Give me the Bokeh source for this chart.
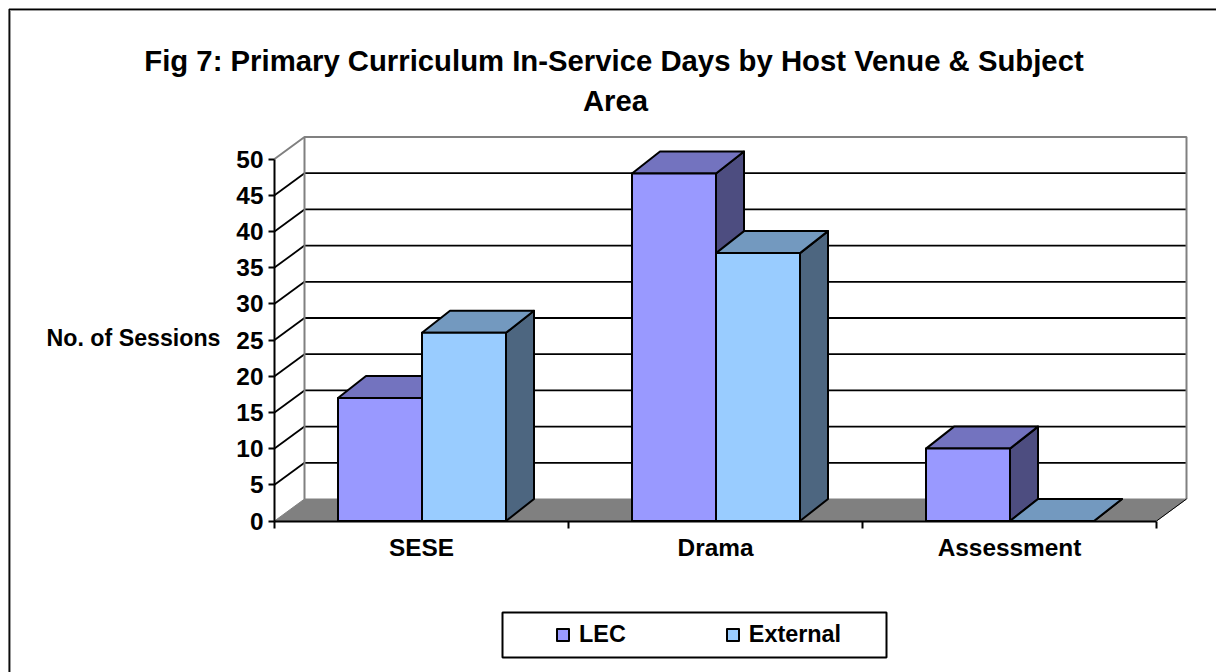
from bokeh.plotting import figure
from bokeh.embed import file_html
from bokeh.resources import INLINE
from bokeh.models import (ColumnDataSource, Range1d, LinearAxis, FixedTicker, Label,
                          Legend, LegendItem, BoxAnnotation)

categories = ["SESE", "Drama", "Assessment"]
lec = [17, 48, 10]
external = [26, 37, 0]
y_ticks = [0, 5, 10, 15, 20, 25, 30, 35, 40, 45, 50]

FONT = "Liberation Sans"
PX_X = 294.0      # pixels per category
PX_Y = 7.24       # pixels per unit
X0, Y0 = 274, 520.5  # page position of the front origin
WIDTH, HEIGHT = 1216, 672

DX_WALL, DY_WALL = 30 / PX_X, 22 / PX_Y
DX_BAR, DY_BAR = 28 / PX_X, 22 / PX_Y
BAR_W = 84 / PX_X
BAR_SHIFT = 0.5 / PX_X


def X(px):
    return (px - X0) / PX_X


def Y(py):
    return (Y0 - py) / PX_Y


p = figure(width=WIDTH, height=HEIGHT, output_backend="svg", toolbar_location=None,
           x_range=Range1d(X(0), X(WIDTH)), y_range=Range1d(Y(HEIGHT), Y(0)),
           x_axis_type=None, y_axis_type=None,
           min_border_left=0, min_border_top=0, min_border_right=0, min_border_bottom=0)
p.outline_line_color = None
p.grid.visible = False

n = len(categories)
ymax = y_ticks[-1]
GREY = "#808080"

# floor
p.patch([0, DX_WALL, n + DX_WALL, n], [0, DY_WALL, DY_WALL, 0], fill_color=GREY, line_color=GREY, line_width=1)

# gridlines: diagonal on the side wall and horizontal on the back wall
inner = y_ticks[1:-1]
p.multi_line([[0, DX_WALL] for _ in inner], [[t, t + DY_WALL] for t in inner], line_color="black", line_width=1.8)
p.multi_line([[DX_WALL, n + DX_WALL] for _ in inner], [[t + DY_WALL] * 2 for t in inner], line_color="black", line_width=1.8)

# wall outline
p.line([0, DX_WALL, n + DX_WALL, n + DX_WALL], [ymax, ymax + DY_WALL, ymax + DY_WALL, DY_WALL], line_color=GREY, line_width=2)
p.line([DX_WALL, DX_WALL], [DY_WALL, ymax + DY_WALL], line_color=GREY, line_width=2)
p.line([n, n + DX_WALL], [0, DY_WALL], line_color="black", line_width=1)

series = [("LEC", lec, -BAR_W, "#9999FF", "#7373BF", "#4D4D80"),
          ("External", external, 0, "#99CCFF", "#7399BF", "#4D6680")]

# bars: per category, LEC first so that External overlaps it
fronts = {}
for i in range(n):
    for name, vals, off, front, top, side in series:
        l = i + 0.5 + off + BAR_SHIFT
        r = l + BAR_W
        v = vals[i]
        kw = dict(line_color="black", line_width=2, line_join="round")
        p.patch([r, r + DX_BAR, r + DX_BAR, r], [0, DY_BAR, v + DY_BAR, v], fill_color=side, **kw)
        p.patch([l, l + DX_BAR, r + DX_BAR, r], [v, v + DY_BAR, v + DY_BAR, v], fill_color=top, **kw)
        src = ColumnDataSource(dict(left=[l], right=[r], top=[v], bottom=[0]))
        g = p.quad(left="left", right="right", top="top", bottom="bottom", source=src, fill_color=front, **kw)
        fronts.setdefault(name, g)

# axes, fixed at the front origin inside the full-canvas frame
y_axis = LinearAxis(ticker=FixedTicker(ticks=y_ticks), bounds=(0, ymax), fixed_location=0)
y_axis.major_tick_in = 0
y_axis.major_tick_out = 6
y_axis.minor_tick_in = 0
y_axis.minor_tick_out = 0
y_axis.major_tick_line_width = 2
y_axis.axis_line_width = 2
y_axis.major_label_standoff = 5
y_axis.major_label_text_font = FONT
y_axis.major_label_text_font_style = "bold"
y_axis.major_label_text_font_size = "24.4px"
y_axis.major_label_text_color = "black"
p.add_layout(y_axis, "left")

centers = [i + 0.5 for i in range(n)]
x_axis = LinearAxis(ticker=FixedTicker(ticks=centers, minor_ticks=list(range(n + 1))), bounds=(0, n), fixed_location=0)
x_axis.major_label_overrides = {c: name for c, name in zip(centers, categories)}
x_axis.major_tick_in = 0
x_axis.major_tick_out = 0
x_axis.minor_tick_in = 0
x_axis.minor_tick_out = 7
x_axis.minor_tick_line_width = 2
x_axis.axis_line_width = 2
x_axis.major_label_standoff = 6
x_axis.major_label_text_font = FONT
x_axis.major_label_text_font_style = "bold"
x_axis.major_label_text_font_size = "24.4px"
x_axis.major_label_text_color = "black"
p.add_layout(x_axis, "below")

# texts
for txt, px, py, size, align in [
    ("Fig 7: Primary Curriculum In-Service Days by Host Venue & Subject", 613.5, 60, "29.3px", "center"),
    ("Area", 615, 100, "29.3px", "center"),
    ("No. of Sessions", 220, 337.5, "23.2px", "right"),
]:
    p.add_layout(Label(x=X(px), y=Y(py), text=txt, text_font=FONT, text_font_style="bold",
                       text_font_size=size, text_align=align, text_baseline="middle", text_color="black"))

# chart border, only its top and left edges fall inside the page
box = dict(left_units="canvas", top_units="canvas", right_units="canvas", bottom_units="canvas",
           fill_color=None, fill_alpha=0, line_alpha=1, level="overlay")
p.add_layout(BoxAnnotation(left=9.8, top=9.8, right=1500, bottom=1500, line_color=GREY, line_width=1, **box))
p.add_layout(BoxAnnotation(left=8.7, top=8.7, right=1500, bottom=1500, line_color="black", line_width=1.5, **box))
# legend frame
p.add_layout(BoxAnnotation(left=502, top=612, right=886, bottom=657, line_color="black", line_width=2, **box))

legend = Legend(items=[LegendItem(label=k, renderers=[g]) for k, g in fronts.items()],
                orientation="horizontal", location=(555, HEIGHT - 648), padding=0, margin=0,
                spacing=99, glyph_width=15, glyph_height=15, label_standoff=9,
                label_text_font=FONT, label_text_font_style="bold", label_text_font_size="23.4px",
                label_text_color="black", border_line_color=None, background_fill_color=None,
                background_fill_alpha=0)
p.add_layout(legend, "center")

open("out.html", "w").write(file_html(p, INLINE))
